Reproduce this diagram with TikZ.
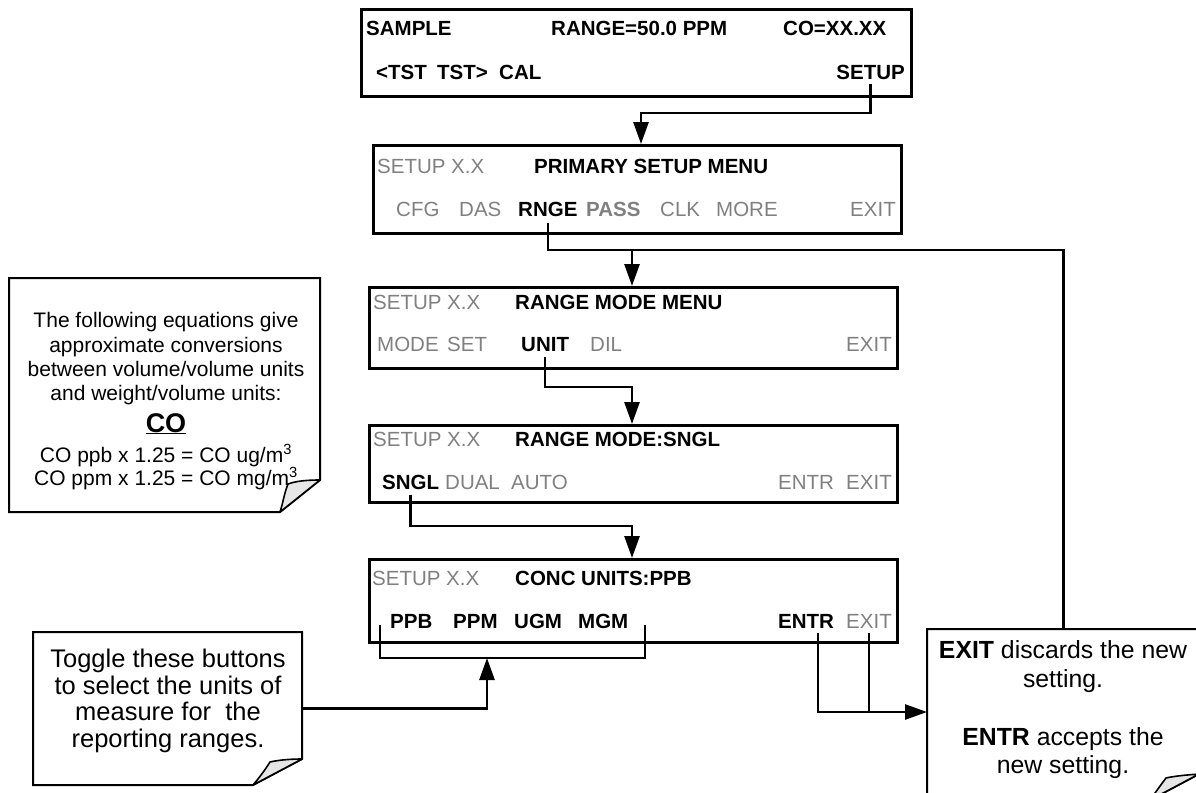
\documentclass[tikz,border=0pt]{standalone}
\usepackage{fontspec}
\setmainfont{Liberation Sans}
\usetikzlibrary{arrows.meta}
\definecolor{txtgray}{RGB}{128,128,128}
\definecolor{curlgray}{RGB}{230,230,230}
\begin{document}
\begin{tikzpicture}[x=1pt,y=-1pt,
  menubox/.style={draw=black,line width=3pt,inner sep=0pt,anchor=north west},
  lbl/.style={anchor=base west,inner sep=0pt,font=\fontsize{20.5}{24}\selectfont},
  lblr/.style={lbl,anchor=base east},
  hi/.style={font=\fontsize{20.5}{24}\selectfont\bfseries},
  lo/.style={text=txtgray},
  conn/.style={line width=2.6pt},
  arr/.style={conn,-{Triangle[length=22pt,width=15pt]}},
  note/.style={draw=black,line width=2pt,fill=white,line join=miter},
  curl/.style={draw=black,line width=1.6pt,fill=curlgray,line join=round},
  frame/.style={inner sep=0pt,anchor=north west},
  notetxt/.style={anchor=base,inner sep=0pt,font=\fontsize{21}{24}\selectfont},
  tgtxt/.style={anchor=base,inner sep=0pt,font=\fontsize{25.5}{27}\selectfont},
  extxt/.style={anchor=base,inner sep=0pt,font=\fontsize{24.8}{29}\selectfont},
]
\useasboundingbox (0,0) rectangle (1196,792);
\clip (0,0) rectangle (1196,792);

% ---------- Box 1 ----------
\node[menubox,minimum width=550pt,minimum height=87pt] (b1) at (360,8) {};
\node[lbl,hi] (k1sample) at (366,36) {SAMPLE};
\node[lbl,hi] (k1range) at (551,36) {RANGE=50.0 PPM};
\node[lbl,hi] (k1co) at (783,36) {CO=XX.XX};
\node[lbl,hi] (k1tstl) at (376,79) {<TST};
\node[lbl,hi] (k1tstr) at (437,79) {TST>};
\node[lbl,hi] (k1cal) at (499,79) {CAL};
\node[lblr,hi] (k1setup) at (905,79) {SETUP};

% ---------- Box 2 ----------
\node[menubox,minimum width=528pt,minimum height=88pt] (b2) at (372,144) {};
\node[lbl,lo] (k2title) at (377,173) {SETUP X.X};
\node[lbl,hi] (k2head) at (534,173) {PRIMARY SETUP MENU};
\node[lbl,lo] (k2cfg) at (396,216) {CFG};
\node[lbl,lo] (k2das) at (459,216) {DAS};
\node[lbl,hi] (k2rnge) at (518,216) {RNGE};
\node[lbl,hi,lo] (k2pass) at (586,216) {PASS};
\node[lbl,lo] (k2clk) at (660,216) {CLK};
\node[lbl,lo] (k2more) at (716,216) {MORE};
\node[lblr,lo] (k2exit) at (896,216) {EXIT};

% ---------- Box 3 ----------
\node[menubox,minimum width=528pt,minimum height=81pt] (b3) at (368,286) {};
\node[lbl,lo] (k3title) at (373,309) {SETUP X.X};
\node[lbl,hi] (k3head) at (515,309) {RANGE MODE MENU};
\node[lbl,lo] (k3mode) at (377,351) {MODE};
\node[lbl,lo] (k3set) at (447,351) {SET};
\node[lbl,hi] (k3unit) at (521,351) {UNIT};
\node[lbl,lo] (k3dil) at (590,351) {DIL};
\node[lblr,lo] (k3exit) at (892,351) {EXIT};

% ---------- Box 4 ----------
\node[menubox,minimum width=528pt,minimum height=77pt] (b4) at (368,424) {};
\node[lbl,lo] (k4title) at (373,446) {SETUP X.X};
\node[lbl,hi] (k4head) at (515,446) {RANGE MODE:SNGL};
\node[lbl,hi] (k4sngl) at (382,489) {SNGL};
\node[lbl,lo] (k4dual) at (445,489) {DUAL};
\node[lbl,lo] (k4auto) at (511,489) {AUTO};
\node[lbl,lo] (k4entr) at (778,489) {ENTR};
\node[lblr,lo] (k4exit) at (892,489) {EXIT};

% ---------- Box 5 ----------
\node[menubox,minimum width=528pt,minimum height=83pt] (b5) at (368,558) {};
\node[lbl,lo] (k5title) at (372,585) {SETUP X.X};
\node[lbl,hi] (k5head) at (515,585) {CONC UNITS:PPB};
\node[lbl,hi] (k5ppb) at (390,628) {PPB};
\node[lbl,hi] (k5ppm) at (453,628) {PPM};
\node[lbl,hi] (k5ugm) at (514,628) {UGM};
\node[lbl,hi] (k5mgm) at (578,628) {MGM};
\node[lbl,hi] (k5entr) at (778,628) {ENTR};
\node[lblr,lo] (k5exit) at (892,628) {EXIT};

% ---------- Left note ----------
\node[frame,minimum width=311pt,minimum height=234pt] (notebox) at (9,278) {};
\draw[note] (9,278) -- (320,278) -- (320,480) -- (280,512) -- (9,512) -- cycle;
\draw[curl] (320,480) .. controls (307,480) and (296,481) .. (288,484)
  .. controls (284,494) and (283,503) .. (280,512) -- cycle;
\node[notetxt] (n1) at (166,327) {The following equations give};
\node[notetxt] (n2) at (166,352) {approximate conversions};
\node[notetxt] (n3) at (166,376) {between volume/volume units};
\node[notetxt] (n4) at (166,400) {and weight/volume units:};
\node[notetxt,font=\fontsize{27}{30}\selectfont\bfseries] (n5) at (166,432) {\underline{CO}};
\node[notetxt] (n6) at (166,462) {CO ppb x 1.25 = CO ug/m\textsuperscript{3}};
\node[notetxt] (n7) at (166,485) {CO ppm x 1.25 = CO mg/m\textsuperscript{3}};

% ---------- Toggle note ----------
\node[frame,minimum width=269pt,minimum height=153pt] (tgbox) at (33,632) {};
\draw[note] (33,632) -- (302,632) -- (302,759) -- (253,785) -- (33,785) -- cycle;
\draw[curl] (302,759) .. controls (290,759) and (279,760) .. (270,762)
  .. controls (265,770) and (259,778) .. (253,785) -- cycle;
\node[tgtxt] (t1) at (168,667) {Toggle these buttons};
\node[tgtxt] (t2) at (168,694) {to select the units of};
\node[tgtxt] (t3) at (168,720) {measure for~ the};
\node[tgtxt] (t4) at (168,747) {reporting ranges.};

% ---------- EXIT note ----------
\node[frame,minimum width=272pt,minimum height=171pt] (exitbox) at (927,629) {};
\draw[note] (927,629) -- (1199,629) -- (1199,774) -- (1150,800) -- (927,800) -- cycle;
\draw[curl] (1199,774) .. controls (1186,775) and (1175,776) .. (1166,778)
  .. controls (1160,786) and (1155,793) .. (1150,800) -- cycle;
\node[extxt] (e1) at (1063,658) {\textbf{EXIT} discards the new};
\node[extxt] (e2) at (1063,687) {setting.};
\node[extxt] (e3) at (1063,745) {\textbf{ENTR} accepts the};
\node[extxt] (e4) at (1063,773) {new setting.};

% ---------- Connectors ----------
\coordinate (j1) at (641,113);
\draw[arr] ([yshift=-5pt]k1setup.south) |- (j1) -- (j1 |- b2.north);

\coordinate (j2) at (632,250);
\draw[conn] ([yshift=-7pt]k2rnge.south) |- (exitbox.north |- j2) -- (exitbox.north);
\draw[arr] (j2) -- (j2 |- b3.north);

\coordinate (j3) at (632,387);
\draw[arr] ([yshift=-6pt]k3unit.south) |- (j3) -- (j3 |- b4.north);

\coordinate (j4) at (632,526);
\draw[arr] ([yshift=-6pt]k4sngl.south) |- (j4) -- (j4 |- b5.north);

\coordinate (brl) at (380,625);
\coordinate (brr) at (645,625);
\coordinate (brm) at (487,658);
\draw[conn] (brl) |- (brm) -| (brr);
\draw[arr] (tgbox.east) -| (brm);

\coordinate (jx) at (870,712);
\draw[arr] ([xshift=12pt,yshift=-5pt]k5entr.south) |- (exitbox.west |- jx);
\draw[conn] ([yshift=-5pt]k5exit.south) -- (k5exit.south |- jx);
\end{tikzpicture}
\end{document}
